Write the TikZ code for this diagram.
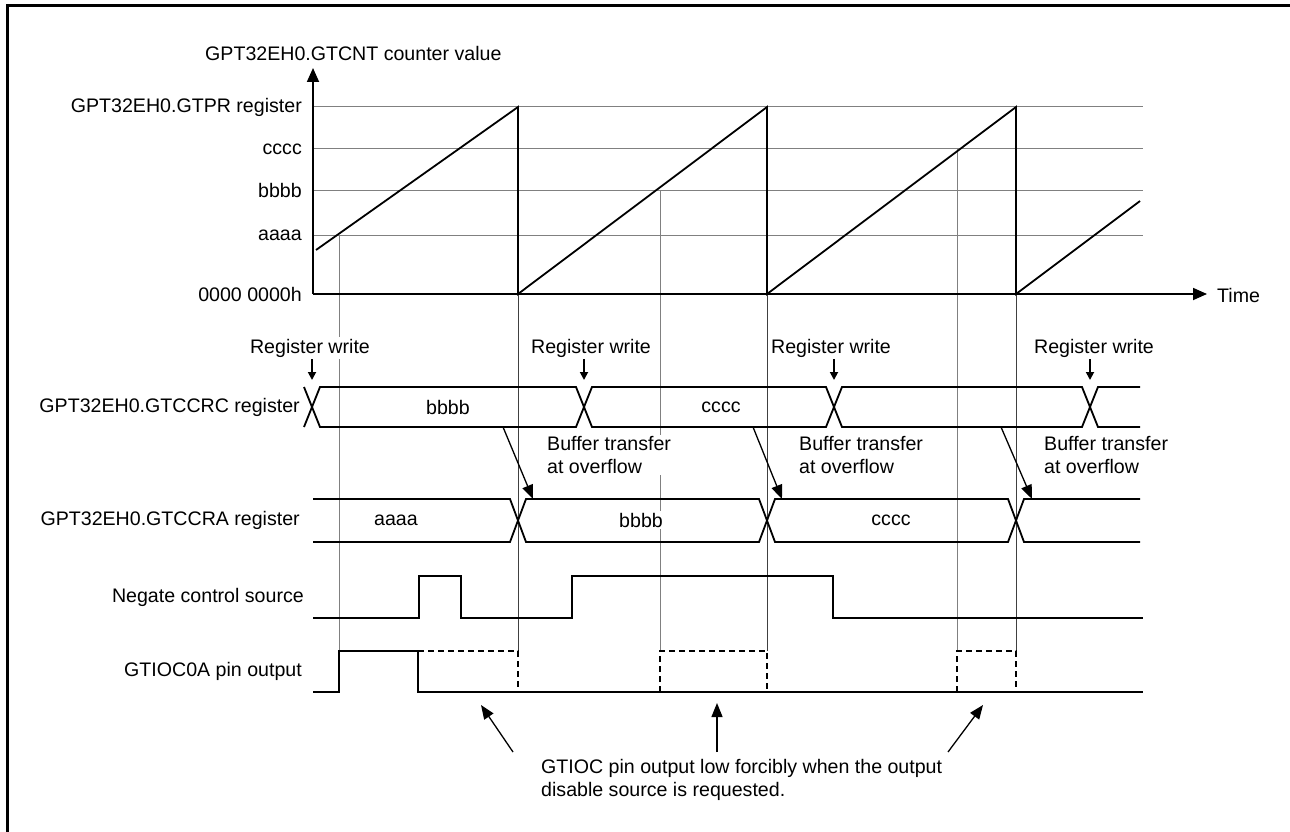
\documentclass[tikz,border=0pt]{standalone}
\usepackage{fontspec}
\setmainfont{Liberation Sans}
\usetikzlibrary{arrows.meta}
\begin{document}
\begin{tikzpicture}[x=1pt,y=-1pt,
  txt/.style={font=\fontsize{19.6}{23.5}\selectfont, inner sep=2pt},
  wtxt/.style={txt, fill=white},
  sig/.style={line width=1.8pt, line join=miter},
  grid/.style={line width=1pt, draw=black!50},
  thin/.style={line width=0.9pt, draw=black!75},
  dsh/.style={line width=1.8pt, dash pattern=on 6pt off 4pt},
  axarr/.style={line width=1.8pt, -{Triangle[length=14pt,width=12pt]}},
  smallarr/.style={line width=1.8pt, -{Triangle[length=8pt,width=8pt]}},
  bigarr/.style={line width=1.3pt, -{Triangle[length=14pt,width=11pt]}}
]
\useasboundingbox (0,0) rectangle (1290,832);
% frame (top and left only)
\draw[line width=3pt] (1290,5.5) -- (7.5,5.5) -- (7.5,832);

% grid lines
\foreach \yy in {107,149,190,235} \draw[grid] (313,\yy) -- (1143,\yy);
% vertical reference lines
\draw[grid] (339,235) -- (339,692);
\draw[thin] (518,294) -- (518,651);
\draw[grid] (660,190) -- (660,651);
\draw[thin] (767,294) -- (767,651);
\draw[grid] (957,149) -- (957,651);
\draw[thin] (1016,294) -- (1016,651);

% axes
\coordinate (origin) at (313,294);
\coordinate (ytip) at (313,68);
\coordinate (xtip) at (1207,294);
\draw[axarr] (origin) -- (ytip);
\draw[axarr] (origin) -- (xtip);
\node[txt, anchor=west] (ytitle) at (203,53) {GPT32EH0.GTCNT counter value};
\node[txt, anchor=west] (tlabel) at (1215,295) {Time};
\node[txt, anchor=east] (lgtpr) at (304,107) {GPT32EH0.GTPR register};
\node[txt, anchor=east] (lc) at (304,149) {cccc};
\node[txt, anchor=east] (lb) at (304,190) {bbbb};
\node[txt, anchor=east] (la) at (304,235) {aaaa};
\node[txt, anchor=east] (lz) at (304,294) {0000 0000h};

% counter ramp
\draw[sig] (316,250) -- (518,107) -- (518,294) -- (767,107) -- (767,294)
  -- (1016,107) -- (1016,294) -- (1140,201);

% GTCCRC row (387..427)
\node[txt, anchor=east] (lccrc) at (302,407) {GPT32EH0.GTCCRC register};
\draw[sig] (304,387) -- (320,427) -- (576,427) -- (592,387) -- (826,387) -- (842,427) -- (1082,427) -- (1098,387) -- (1140,387);
\draw[sig] (304,427) -- (320,387) -- (576,387) -- (592,427) -- (826,427) -- (842,387) -- (1082,387) -- (1098,427) -- (1140,427);
\node[wtxt] (crcb) at (448,407) {bbbb};
\node[wtxt] (crcc) at (721,407) {cccc};

% register write labels and arrows
\foreach \n/\tx/\ax in {1/310/312, 2/591/584, 3/831/834, 4/1094/1090} {
  \node[wtxt] (rw\n) at (\tx,348) {Register write};
  \draw[smallarr] (\ax,359) -- (\ax,380);
}

% buffer transfer labels
\foreach \n/\tx in {1/546, 2/798, 3/1043} {
  \node[txt, anchor=north west, fill=white, align=left, inner sep=1pt] (bt\n) at (\tx,435) {Buffer transfer\\at overflow};
}
% GTCCRA row (499..542)
\node[txt, anchor=east] (lccra) at (302,520) {GPT32EH0.GTCCRA register};
\draw[sig] (313,499) -- (510,499) -- (526,542) -- (759,542) -- (775,499) -- (1008,499) -- (1024,542) -- (1140,542);
\draw[sig] (313,542) -- (510,542) -- (526,499) -- (759,499) -- (775,542) -- (1008,542) -- (1024,499) -- (1140,499);
\node[wtxt] (raa) at (396,520) {aaaa};
\node[wtxt] (rab) at (641,520) {bbbb};
\node[wtxt] (rac) at (891,520) {cccc};
% buffer transfer arrows
\draw[bigarr] (503,427) -- (533,499);
\draw[bigarr] (753,427) -- (782,499);
\draw[bigarr] (1001,427) -- (1032,499);

% Negate control source
\node[txt, anchor=east] (lneg) at (306,597) {Negate control source};
\draw[sig] (313,618) -- (419,618) -- (419,576) -- (461,576) -- (461,618) -- (572,618) -- (572,576) -- (833,576) -- (833,618) -- (1143,618);

% GTIOC0A pin output
\node[txt, anchor=east] (lpin) at (304,671) {GTIOC0A pin output};
\draw[sig] (313,692) -- (339,692) -- (339,651) -- (418,651) -- (418,692) -- (1143,692);
\draw[dsh] (418,651) -- (518,651) -- (518,692);
\draw[dsh] (660,692) -- (660,651) -- (767,651) -- (767,692);
\draw[dsh] (957,692) -- (957,651) -- (1016,651) -- (1016,692);

% note and arrows
\node[txt, anchor=west, align=left, inner sep=0pt] (note) at (541,780) {GTIOC pin output low forcibly when the output\\disable source is requested.};
\draw[bigarr] (513,752) -- (481,705);
\draw[bigarr] (717,752) -- (717,703);
\draw[bigarr] (948,752) -- (983,705);
\end{tikzpicture}
\end{document}
